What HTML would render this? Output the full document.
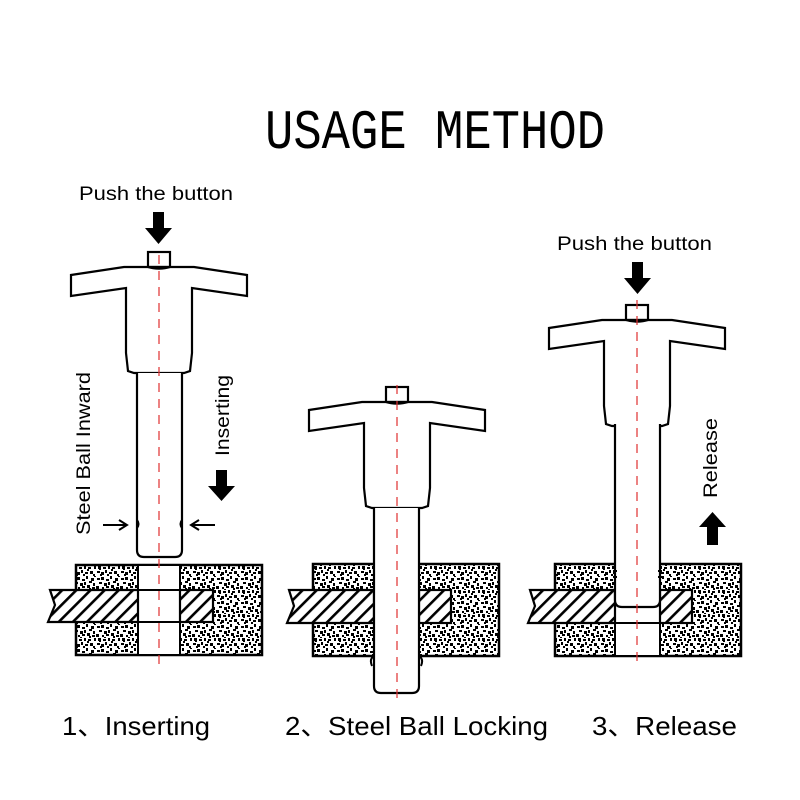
<!DOCTYPE html>
<html><head><meta charset="utf-8"><style>
html,body{margin:0;padding:0;background:#fff;}
svg{display:block;}
text{font-family:"Liberation Sans",sans-serif;fill:#000;}
</style></head><body>
<svg width="800" height="800" viewBox="0 0 800 800" xmlns="http://www.w3.org/2000/svg">
<defs>
<pattern id="sp" width="24" height="24" patternUnits="userSpaceOnUse">
<rect width="24" height="24" fill="#fff"/>
<g fill="#000">
<rect x="1" y="2" width="3" height="2"/><rect x="5" y="1" width="3" height="3"/><rect x="10" y="3" width="3" height="2"/><rect x="14" y="0" width="2" height="3"/><rect x="19" y="2" width="3" height="3"/>
<rect x="3" y="6" width="3" height="2"/><rect x="8" y="7" width="3" height="3"/><rect x="12" y="6" width="2" height="3"/><rect x="17" y="5" width="3" height="2"/><rect x="21" y="7" width="2" height="3"/>
<rect x="0" y="10" width="3" height="3"/><rect x="6" y="11" width="2" height="2"/><rect x="10" y="10" width="3" height="2"/><rect x="15" y="9" width="3" height="3"/><rect x="20" y="11" width="3" height="2"/>
<rect x="2" y="14" width="3" height="3"/><rect x="7" y="15" width="3" height="2"/><rect x="12" y="14" width="2" height="3"/><rect x="16" y="15" width="3" height="2"/><rect x="22" y="14" width="2" height="3"/>
<rect x="1" y="19" width="3" height="2"/><rect x="5" y="20" width="3" height="3"/><rect x="9" y="18" width="2" height="3"/><rect x="13" y="20" width="3" height="2"/><rect x="18" y="19" width="3" height="3"/>
<rect x="4" y="22" width="2" height="2"/><rect x="11" y="22" width="2" height="2"/><rect x="21" y="22" width="2" height="2"/><rect x="15" y="17" width="2" height="2"/><rect x="8" y="13" width="2" height="1"/>
<rect x="17" y="12" width="2" height="2"/><rect x="3" y="17" width="2" height="1"/><rect x="22" y="0" width="2" height="1"/>
</g>
</pattern>
<pattern id="ht" width="10" height="10" patternUnits="userSpaceOnUse" patternTransform="rotate(45)">
<rect width="10" height="10" fill="#fff"/>
<rect x="0" y="0" width="2.6" height="10" fill="#000"/>
</pattern>
<g id="handle" fill="#fff" stroke="#000" stroke-width="2.2">
<rect x="-11" y="-15" width="22" height="15"/>
<path d="M-35,0 L35,0 L88,8 L88,29 L33,21 L33,86 L31,104 L25,106 L-25,106 L-31,104 L-33,86 L-33,21 L-88,29 L-88,8 Z"/>
<path d="M-12,0 Q0,4 12,0" fill="#000" stroke-width="1.5"/>
</g>
</defs>

<text x="265" y="148" style="font-family:'Liberation Mono',monospace" font-size="56" textLength="340" lengthAdjust="spacingAndGlyphs">USAGE METHOD</text>

<!-- Unit 1 -->
<text x="79" y="200" font-size="19" textLength="154" lengthAdjust="spacingAndGlyphs">Push the button</text>
<path d="M153,212 h11 v16 h8 l-13.5,16 l-13.5,-16 h8 z" fill="#000"/>
<g transform="translate(159,267)"><use href="#handle"/></g>
<path d="M137,373 V550 Q137,557 144,557 H175 Q182,557 182,550 V373" fill="#fff" stroke="#000" stroke-width="2.2"/>
<path d="M137,520 q3,4 0,8 M182,520 q-3,4 0,8" fill="none" stroke="#000" stroke-width="2"/>
<rect x="76" y="565" width="186" height="90" fill="url(#sp)" stroke="#000" stroke-width="2.5"/>
<rect x="138" y="565" width="42" height="90" fill="#fff" stroke="#000" stroke-width="2"/>
<path d="M48,622 L55,605 L50,590 L138,590 L138,622 Z" fill="url(#ht)" stroke="#000" stroke-width="2.2"/>
<rect x="180" y="590" width="33" height="32" fill="url(#ht)" stroke="#000" stroke-width="2.2"/>
<line x1="138" y1="590" x2="180" y2="590" stroke="#000" stroke-width="2"/>
<line x1="138" y1="622" x2="180" y2="622" stroke="#000" stroke-width="2"/>
<line x1="159" y1="255" x2="159" y2="668" stroke="#e03030" stroke-width="1.2" stroke-dasharray="9,7"/>
<text transform="translate(90,535) rotate(-90)" font-size="19" textLength="163" lengthAdjust="spacingAndGlyphs">Steel Ball Inward</text>
<text transform="translate(229,456) rotate(-90)" font-size="19" textLength="81" lengthAdjust="spacingAndGlyphs">Inserting</text>
<path d="M216,470 h11 v16 h8 l-13.5,15 l-13.5,-15 h8 z" fill="#000"/>
<path d="M103,525 H126 M119,520 L127,525 L119,530" fill="none" stroke="#000" stroke-width="2"/>
<path d="M215,525 H192 M199,520 L191,525 L199,530" fill="none" stroke="#000" stroke-width="2"/>

<!-- Unit 2 -->
<g transform="translate(397,402)"><use href="#handle"/></g>
<rect x="313" y="564" width="186" height="92" fill="url(#sp)" stroke="#000" stroke-width="2.5"/>
<path d="M287,623 L294,606 L289,590 L374,590 L374,623 Z" fill="url(#ht)" stroke="#000" stroke-width="2.2"/>
<rect x="419" y="590" width="32" height="33" fill="url(#ht)" stroke="#000" stroke-width="2.2"/>
<path d="M374,508 V686 Q374,693 381,693 H412 Q419,693 419,686 V508" fill="#fff" stroke="#000" stroke-width="2.2"/>
<path d="M374,656 q-5,3 -2,10 M419,656 q5,3 2,10" fill="none" stroke="#000" stroke-width="2"/>
<line x1="397" y1="385" x2="397" y2="700" stroke="#e03030" stroke-width="1.2" stroke-dasharray="9,7"/>

<!-- Unit 3 -->
<text x="557" y="250" font-size="19" textLength="155" lengthAdjust="spacingAndGlyphs">Push the button</text>
<path d="M632,262 h11 v16 h8 l-13.5,16 l-13.5,-16 h8 z" fill="#000"/>
<g transform="translate(637,320)"><use href="#handle"/></g>
<rect x="555" y="564" width="186" height="92" fill="url(#sp)" stroke="#000" stroke-width="2.5"/>
<rect x="615" y="564" width="45" height="92" fill="#fff" stroke="#000" stroke-width="2"/>
<path d="M528,623 L535,606 L530,590 L615,590 L615,623 Z" fill="url(#ht)" stroke="#000" stroke-width="2.2"/>
<rect x="660" y="590" width="32" height="33" fill="url(#ht)" stroke="#000" stroke-width="2.2"/>
<line x1="615" y1="623" x2="660" y2="623" stroke="#000" stroke-width="2"/>
<path d="M615,424 V600 Q615,607 622,607 H653 Q660,607 660,600 V424" fill="#fff" stroke="#000" stroke-width="2.2"/>
<path d="M617,571 h-4 M617,577 h-4 M658,571 h4 M658,577 h4" stroke="#000" stroke-width="2"/>
<line x1="637" y1="300" x2="637" y2="665" stroke="#e03030" stroke-width="1.2" stroke-dasharray="9,7"/>
<text transform="translate(717,498) rotate(-90)" font-size="19" textLength="80" lengthAdjust="spacingAndGlyphs">Release</text>
<path d="M707,545 h11 v-18 h8 l-13.5,-15 l-13.5,15 h8 z" fill="#000"/>

<!-- captions -->
<text x="62" y="735" font-size="26" textLength="148" lengthAdjust="spacingAndGlyphs" style="font-family:'Liberation Sans','Noto Sans CJK SC',sans-serif">1、Inserting</text>
<text x="285" y="735" font-size="26" textLength="263" lengthAdjust="spacingAndGlyphs" style="font-family:'Liberation Sans','Noto Sans CJK SC',sans-serif">2、Steel Ball Locking</text>
<text x="592" y="735" font-size="26" textLength="145" lengthAdjust="spacingAndGlyphs" style="font-family:'Liberation Sans','Noto Sans CJK SC',sans-serif">3、Release</text>
</svg>
</body></html>
